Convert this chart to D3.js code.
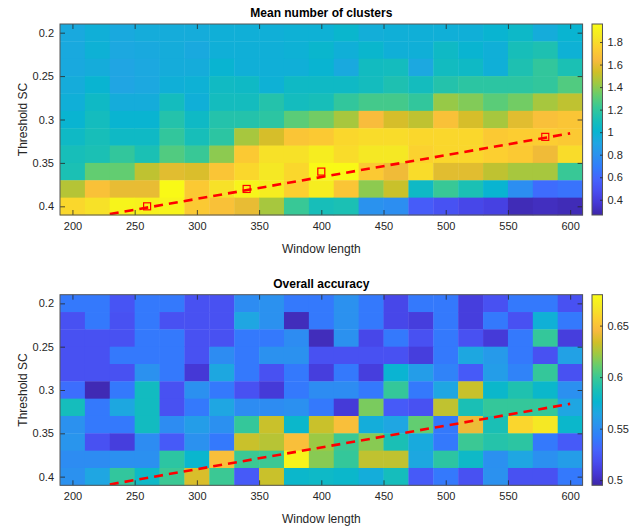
<!DOCTYPE html>
<html>
<head>
<meta charset="utf-8">
<script src="https://cdn.jsdelivr.net/npm/d3@7"></script>
<style>
  body { margin: 0; background: #fff; }
  text { font-family: "Liberation Sans", Arial, sans-serif; fill: #262626; }
</style>
</head>
<body>
<svg width="639" height="529"></svg>
<script>
// column and row centres of both grids
var windowLengths = [200, 220, 240, 260, 280, 300, 320, 340, 360, 380, 400,
  420, 440, 460, 480, 500, 520, 540, 560, 580, 600];
var thresholds = [0.2, 0.22, 0.24, 0.26, 0.28, 0.3, 0.32, 0.34, 0.36, 0.38, 0.4];

var xTicks = [200, 250, 300, 350, 400, 450, 500, 550, 600];
var yTicks = [0.2, 0.25, 0.3, 0.35, 0.4];

// mean number of clusters, one row per threshold (top = 0.2)
var clusters = [
  [0.93, 0.97, 0.93, 0.95, 0.95, 0.95, 0.97, 0.97, 0.97, 0.98, 0.98, 1.02, 0.96, 0.97, 0.97, 0.97, 0.97, 1.0, 1.04, 0.95, 1.0],
  [0.93, 0.98, 0.92, 0.93, 0.95, 0.93, 0.97, 0.97, 0.97, 0.98, 1.02, 0.97, 1.02, 0.97, 0.97, 1.05, 1.0, 0.97, 1.1, 1.13, 0.98],
  [0.93, 0.95, 0.9, 0.92, 0.95, 0.95, 1.0, 0.97, 0.97, 0.97, 1.0, 0.93, 1.07, 1.08, 0.92, 1.07, 1.05, 0.97, 1.13, 1.2, 1.12],
  [0.95, 1.0, 0.9, 0.92, 0.97, 0.98, 1.06, 1.05, 0.98, 1.05, 1.05, 1.05, 1.08, 1.13, 1.08, 1.15, 1.18, 1.18, 1.18, 1.2, 1.28],
  [0.97, 1.05, 0.95, 0.95, 1.08, 0.97, 1.08, 1.08, 1.15, 1.08, 1.1, 1.2, 1.25, 1.25, 1.2, 1.42, 1.38, 1.3, 1.35, 1.45, 1.5],
  [1.0, 1.08, 1.0, 1.0, 1.15, 1.05, 1.15, 1.15, 1.18, 1.3, 1.35, 1.45, 1.65, 1.55, 1.5, 1.68, 1.55, 1.45, 1.58, 1.67, 1.7],
  [1.05, 1.1, 1.05, 1.05, 1.2, 1.1, 1.18, 1.45, 1.55, 1.7, 1.72, 1.78, 1.8, 1.8, 1.78, 1.78, 1.78, 1.72, 1.74, 1.74, 1.72],
  [1.1, 1.12, 1.2, 1.12, 1.28, 1.22, 1.4, 1.72, 1.82, 1.82, 1.88, 1.8, 1.85, 1.85, 1.76, 1.78, 1.78, 1.75, 1.72, 1.62, 1.8],
  [1.12, 1.32, 1.32, 1.5, 1.58, 1.56, 1.7, 1.78, 1.85, 1.78, 1.95, 1.95, 1.72, 1.62, 1.8, 1.58, 1.58, 1.5, 1.45, 1.45, 1.22],
  [1.48, 1.68, 1.6, 1.6, 1.95, 1.72, 1.82, 1.92, 1.88, 1.75, 1.88, 1.7, 1.4, 1.52, 1.05, 1.22, 1.12, 1.0, 0.78, 0.62, 0.65],
  [1.78, 1.82, 1.92, 1.9, 1.92, 1.72, 1.68, 1.6, 1.45, 1.22, 1.1, 1.12, 0.8, 0.78, 0.55, 0.5, 0.45, 0.42, 0.3, 0.32, 0.3]
];

// overall accuracy, same layout
var accuracy = [
  [0.54, 0.54, 0.522, 0.54, 0.54, 0.52, 0.52, 0.55, 0.553, 0.54, 0.54, 0.553, 0.54, 0.515, 0.54, 0.54, 0.51, 0.52, 0.54, 0.54, 0.52],
  [0.52, 0.54, 0.52, 0.54, 0.52, 0.52, 0.52, 0.565, 0.553, 0.5, 0.54, 0.553, 0.54, 0.515, 0.51, 0.54, 0.51, 0.54, 0.52, 0.572, 0.54],
  [0.52, 0.52, 0.52, 0.54, 0.54, 0.52, 0.52, 0.54, 0.54, 0.55, 0.5, 0.553, 0.515, 0.54, 0.52, 0.54, 0.52, 0.508, 0.54, 0.598, 0.51],
  [0.52, 0.52, 0.54, 0.54, 0.54, 0.52, 0.55, 0.54, 0.553, 0.553, 0.52, 0.52, 0.52, 0.52, 0.51, 0.54, 0.566, 0.558, 0.54, 0.52, 0.562],
  [0.52, 0.52, 0.52, 0.553, 0.54, 0.507, 0.566, 0.54, 0.52, 0.54, 0.51, 0.54, 0.51, 0.575, 0.56, 0.545, 0.525, 0.56, 0.545, 0.598, 0.52],
  [0.535, 0.498, 0.54, 0.583, 0.52, 0.552, 0.54, 0.52, 0.508, 0.54, 0.55, 0.55, 0.54, 0.598, 0.54, 0.565, 0.632, 0.578, 0.59, 0.578, 0.552],
  [0.585, 0.54, 0.566, 0.583, 0.52, 0.54, 0.565, 0.55, 0.55, 0.552, 0.54, 0.508, 0.615, 0.525, 0.52, 0.63, 0.588, 0.598, 0.598, 0.598, 0.565],
  [0.553, 0.54, 0.54, 0.583, 0.55, 0.56, 0.552, 0.598, 0.632, 0.578, 0.632, 0.648, 0.57, 0.565, 0.61, 0.54, 0.642, 0.588, 0.66, 0.668, 0.578],
  [0.555, 0.52, 0.51, 0.55, 0.525, 0.553, 0.54, 0.632, 0.628, 0.648, 0.622, 0.6, 0.618, 0.588, 0.568, 0.54, 0.6, 0.592, 0.595, 0.54, 0.525],
  [0.55, 0.55, 0.552, 0.552, 0.595, 0.577, 0.648, 0.6, 0.6, 0.675, 0.618, 0.598, 0.63, 0.63, 0.566, 0.595, 0.58, 0.552, 0.565, 0.552, 0.56],
  [0.553, 0.565, 0.597, 0.58, 0.6, 0.636, 0.6, 0.525, 0.632, 0.578, 0.58, 0.578, 0.57, 0.585, 0.525, 0.54, 0.52, 0.553, 0.52, 0.52, 0.54]
];

// colour limits and colorbar ticks
var clustersRange = [0.265, 1.96];
var accuracyRange = [0.495, 0.68];
var clustersTicks = [0.4, 0.6, 0.8, 1, 1.2, 1.4, 1.6, 1.8];
var accuracyTicks = [0.5, 0.55, 0.6, 0.65];

// trend line and the marked optima
var trendX = [230, 600];
var trendY = [0.409, 0.316];
var optimaX = [260, 340, 400, 580];
var optimaY = [0.40, 0.38, 0.36, 0.32];

// parula colormap (every 4th entry of the 64 colour table)
var parula = ["#3e26a8", "#4537d5", "#484df0", "#4563fd", "#327cfc", "#2b91ef",
  "#20a5e3", "#08b5d0", "#19bfb6", "#37c897", "#64cd6f", "#9dc943", "#d1bf27",
  "#f8ba3d", "#fccf30", "#f5e924", "#f9fb15"];
var parulaInterp = d3.piecewise(d3.interpolateRgb, parula);

var svg = d3.select("svg");
var left = 60, right = 582.6;
var ink = "#262626";

function drawPanel(opts) {
  var g = svg.append("g");
  var x = d3.scaleLinear().domain([190, 610]).range([left, right]);
  var y = d3.scaleLinear().domain([0.19, 0.41]).range([opts.top, opts.bottom]);
  var color = d3.scaleSequential(parulaInterp).domain(opts.range).clamp(true);

  // heatmap cells
  var cells = [];
  opts.values.forEach(function(row, i) {
    row.forEach(function(v, j) {
      cells.push({ w: windowLengths[j], t: thresholds[i], v: v });
    });
  });
  g.selectAll("rect.cell")
    .data(cells)
    .enter()
    .append("rect")
    .attr("class", "cell")
    .attr("x", function(d) { return x(d.w - 10); })
    .attr("y", function(d) { return y(d.t - 0.01); })
    .attr("width", function(d) { return x(d.w + 10) - x(d.w - 10) + 0.4; })
    .attr("height", function(d) { return y(d.t + 0.01) - y(d.t - 0.01) + 0.4; })
    .attr("fill", function(d) { return color(d.v); });

  // dashed trend line, clipped to the axes box
  var clipId = "clip" + opts.top;
  svg.append("clipPath").attr("id", clipId)
    .append("rect")
    .attr("x", left).attr("y", opts.top)
    .attr("width", right - left).attr("height", opts.bottom - opts.top);
  var line = d3.line()
    .x(function(d) { return x(d[0]); })
    .y(function(d) { return y(d[1]); });
  g.append("path")
    .datum(d3.zip(trendX, trendY))
    .attr("clip-path", "url(#" + clipId + ")")
    .attr("d", line)
    .attr("fill", "none")
    .attr("stroke", "#ff0000")
    .attr("stroke-width", 2.6)
    .attr("stroke-dasharray", "9,6");

  if (opts.markers) {
    g.selectAll("rect.opt")
      .data(d3.zip(optimaX, optimaY))
      .enter()
      .append("rect")
      .attr("class", "opt")
      .attr("x", function(d) { return x(d[0]) - 3.5; })
      .attr("y", function(d) { return y(d[1]) - 3.5; })
      .attr("width", 7)
      .attr("height", 7)
      .attr("fill", "none")
      .attr("stroke", "#ff0000")
      .attr("stroke-width", 1.2);
  }

  // axes with inward ticks on all four sides
  var tk = 5;
  g.append("g")
    .attr("transform", "translate(0," + opts.bottom + ")")
    .call(d3.axisBottom(x).tickValues(xTicks).tickSize(-tk).tickPadding(7))
    .call(styleAxis);
  g.append("g")
    .attr("transform", "translate(0," + opts.top + ")")
    .call(d3.axisTop(x).tickValues(xTicks).tickSize(-tk).tickFormat(""))
    .call(styleAxis);
  g.append("g")
    .attr("transform", "translate(" + left + ",0)")
    .call(d3.axisLeft(y).tickValues(yTicks).tickSize(-tk).tickPadding(6)
      .tickFormat(function(d) { return String(+d.toFixed(2)); }))
    .call(styleAxis);
  g.append("g")
    .attr("transform", "translate(" + right + ",0)")
    .call(d3.axisRight(y).tickValues(yTicks).tickSize(-tk).tickFormat(""))
    .call(styleAxis);

  g.append("rect")
    .attr("x", left).attr("y", opts.top)
    .attr("width", right - left).attr("height", opts.bottom - opts.top)
    .attr("fill", "none")
    .attr("stroke", "#555")
    .attr("stroke-width", 1);

  // titles and labels
  g.append("text")
    .attr("x", (left + right) / 2)
    .attr("y", opts.top - 7)
    .attr("text-anchor", "middle")
    .style("font-size", "12px")
    .style("font-weight", "bold")
    .style("fill", "#000")
    .text(opts.title);
  g.append("text")
    .attr("x", (left + right) / 2)
    .attr("y", opts.bottom + 38)
    .attr("text-anchor", "middle")
    .style("font-size", "12px")
    .text("Window length");
  g.append("text")
    .attr("transform", "translate(27," + ((opts.top + opts.bottom) / 2) + ") rotate(-90)")
    .attr("text-anchor", "middle")
    .style("font-size", "12px")
    .text("Threshold SC");

  // colorbar
  var cbX = 592, cbW = 10.5;
  var gradId = "grad" + opts.top;
  var grad = svg.append("defs").append("linearGradient")
    .attr("id", gradId)
    .attr("x1", 0).attr("y1", 1).attr("x2", 0).attr("y2", 0);
  parula.forEach(function(c, i) {
    grad.append("stop")
      .attr("offset", i / (parula.length - 1))
      .attr("stop-color", c);
  });
  g.append("rect")
    .attr("x", cbX).attr("y", opts.top)
    .attr("width", cbW).attr("height", opts.bottom - opts.top)
    .attr("fill", "url(#" + gradId + ")")
    .attr("stroke", "#555")
    .attr("stroke-width", 1);
  var cbScale = d3.scaleLinear().domain(opts.range).range([opts.bottom, opts.top]);
  g.append("g")
    .attr("transform", "translate(" + (cbX + cbW) + ",0)")
    .call(d3.axisRight(cbScale).tickValues(opts.cbTicks).tickSize(-2.5).tickPadding(5)
      .tickFormat(function(d) { return String(+d.toFixed(2)); }))
    .call(styleAxis);
}

function styleAxis(sel) {
  sel.select(".domain").remove();
  sel.selectAll(".tick line").attr("stroke", ink).attr("stroke-width", 0.8);
  sel.selectAll(".tick text")
    .style("font-size", "11px")
    .style("font-family", "'Liberation Sans', Arial, sans-serif")
    .attr("fill", ink);
}

drawPanel({ top: 24, bottom: 215, values: clusters, range: clustersRange,
  cbTicks: clustersTicks, title: "Mean number of clusters", markers: true });
drawPanel({ top: 294.7, bottom: 485.3, values: accuracy, range: accuracyRange,
  cbTicks: accuracyTicks, title: "Overall accuracy", markers: false });
</script>
</body>
</html>
